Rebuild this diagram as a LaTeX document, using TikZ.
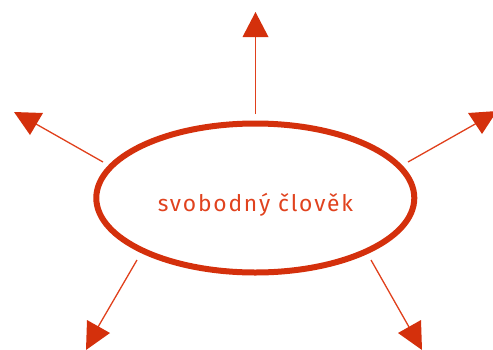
\documentclass[tikz,border=0pt]{standalone}
\usepackage{fontspec}
\usetikzlibrary{shapes.geometric}
\setmainfont{Fira Sans}[LetterSpace=8]
\definecolor{ringred}{HTML}{D4300C}
\definecolor{linered}{HTML}{E0401C}
\definecolor{txtred}{HTML}{E0421E}
\begin{document}
\begin{tikzpicture}[x=1pt,y=-1pt,
  ring/.style={draw=ringred,line width=6pt,ellipse,inner sep=0pt,
    minimum width=318pt,minimum height=149pt},
  lbl/.style={text=txtred,inner sep=0pt,font=\fontsize{22.8}{26}\selectfont},
  ray/.style={draw=linered,line width=1.3pt},
  head/.style={fill=ringred,draw=none}]
\useasboundingbox (0,0) rectangle (493,349);
\node[ring] (c) at (255.3,198) {};
\node[lbl] (t) at (255.5,204.5) {svobodný člověk};
% ray start/end points
\coordinate (s1) at (255.5,114);  \coordinate (e1) at (255.5,36);
\coordinate (s2) at (103,162);    \coordinate (e2) at (36,124);
\coordinate (s3) at (408,162);    \coordinate (e3) at (477,123);
\coordinate (s4) at (137,260);    \coordinate (e4) at (98,327);
\coordinate (s5) at (371,260);    \coordinate (e5) at (409,327);
\draw[ray] (s1) -- (e1);
\draw[ray] (s2) -- (e2);
\draw[ray] (s3) -- (e3);
\draw[ray] (s4) -- (e4);
\draw[ray] (s5) -- (e5);
% arrowheads
\fill[head] (255.5,12) -- (242.5,37) -- (268.5,37) -- cycle;
\fill[head] (14,112) -- (43,113) -- (30,135) -- cycle;
\fill[head] (468,113) -- (497,111) -- (482,134) -- cycle;
\fill[head] (87,320) -- (86,350) -- (110,333) -- cycle;
\fill[head] (421,320) -- (422,350) -- (398,333) -- cycle;
\end{tikzpicture}
\end{document}
